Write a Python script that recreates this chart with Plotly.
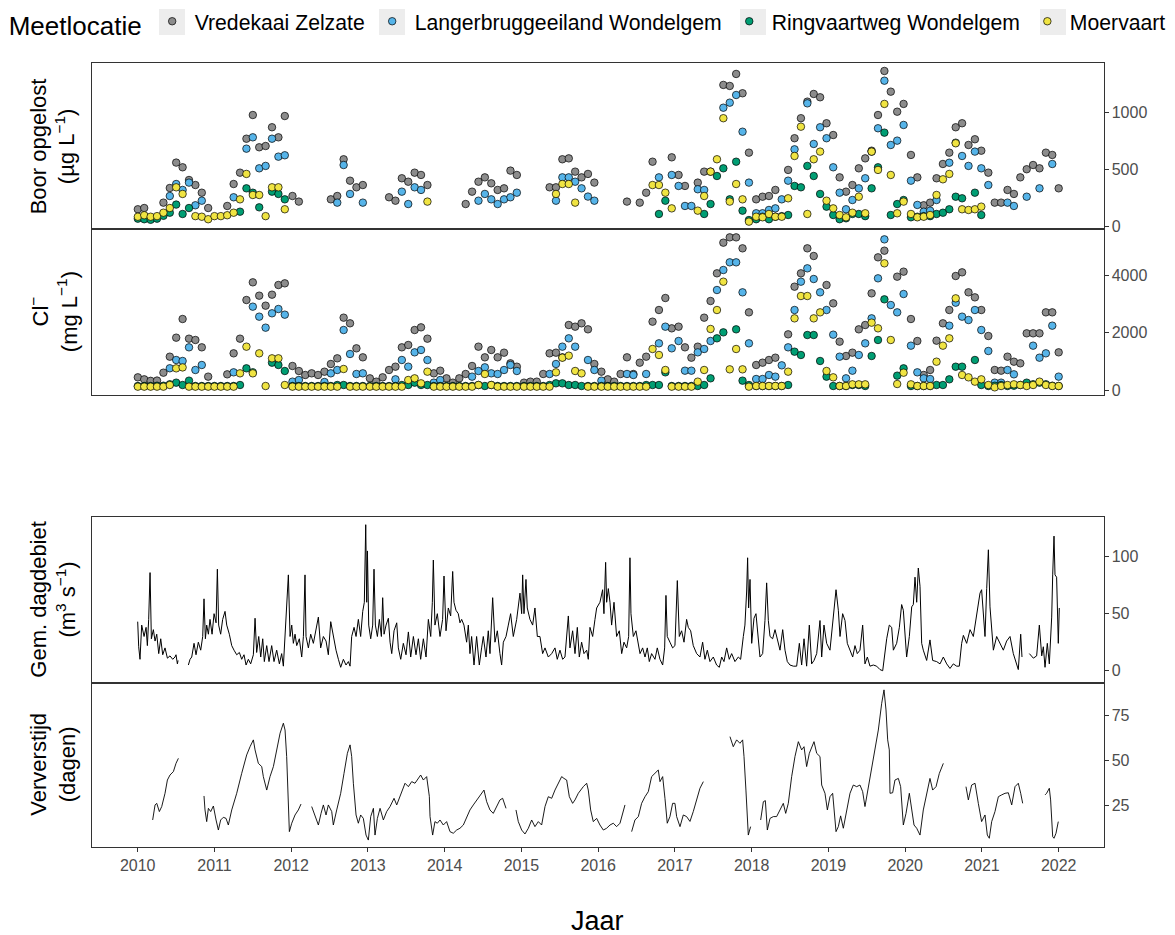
import plotly.graph_objects as go

# ---------------- DATA ----------------
LOCATIONS = ["Vredekaai Zelzate", "Langerbruggeeiland Wondelgem", "Ringvaartweg Wondelgem", "Moervaart"]
COLORS = ["#8C8C8C", "#56B4E9", "#009E73", "#F0E442"]

YEARS = list(range(2010, 2022))
# position of the monthly sampling day inside the month (fraction of a month), per year
SAMPLE_PHASE = [0.02, 0.0, 0.2, 0.3, 0.28, 0.4, 0.5, 0.57, 0.7, 0.75, 0.9, 1.0]
N = None

# Boor opgelost (ug/L), one row per year (Jan..Dec)
BOOR_VZ = [
    [152, 163, N, N, 210, 338, 560, 519, 408, 364, 297, 163],
    [N, N, 181, 373, 472, 769, 976, 694, 705, 869, 781, 967],
    [268, 219, N, N, N, N, 239, 268, 589, 402, 344, 364],
    [N, N, N, 257, 227, 423, 393, 472, 452, 364, N, N],
    [N, N, N, 198, 306, 393, 431, 379, 321, 335, 490, 452],
    [N, N, N, N, 344, 344, 589, 597, 481, 431, 461, 385],
    [N, N, N, N, 219, N, 210, 297, 568, N, N, 606],
    [452, 356, N, 385, 481, 481, N, 1239, 1230, 1335, 1166, 647],
    [239, 262, 268, 321, N, 496, 773, 948, 1093, 1160, 1131, 904],
    [801, 431, 306, 364, 510, 597, 664, 976, 1361, 1180, 1005, 1073],
    [627, 431, 187, 210, 423, 548, 647, 869, 904, 714, 764, 664],
    [472, 210, 210, 321, 286, 431, 502, 539, 510, 647, 627, 335],
]
BOOR_LW = [
    [N, N, N, N, N, 268, 373, 321, 385, 187, 227, N],
    [N, N, N, 257, N, 682, 781, 510, 531, 769, 612, 624],
    [N, N, N, N, N, N, N, 210, 539, 286, N, 210],
    [N, N, N, N, N, 306, 198, 344, 321, N, N, N],
    [N, N, N, N, N, 227, 286, 239, 198, 239, 257, 297],
    [N, N, N, N, N, 227, 431, 431, 393, 335, 263, 227],
    [N, N, N, N, N, N, N, N, N, 431, N, 452],
    [356, 181, 181, 327, 321, N, N, 1040, 1084, 1151, 830, 385],
    [117, 117, 146, 160, 239, 402, 676, N, 1078, 723, 869, 773],
    [519, 297, 152, 233, 335, 423, 656, 860, 1276, 714, 752, 889],
    [402, 190, 131, 140, 233, N, 559, 734, 618, 531, 656, 510],
    [364, N, N, 210, 181, N, 262, N, 335, N, 548, N],
]
BOOR_RW = [
    [70, 65, 60, 70, 95, 122, 193, 111, 163, N, N, N],
    [N, N, N, N, 131, 335, 297, 169, N, 306, 286, 239],
    [N, N, N, N, N, N, N, N, N, N, N, N],
    [N, N, N, N, N, N, N, N, N, N, N, N],
    [N, N, N, N, N, N, N, N, N, N, N, N],
    [N, N, N, N, N, N, N, N, N, N, N, N],
    [N, N, N, N, N, N, N, N, N, 111, 227, N],
    [N, N, N, N, 111, 198, 443, 510, 239, 568, 140, 58],
    [65, 87, 65, 87, 92, 102, 356, 344, 531, 443, 286, 175],
    [102, 65, 73, 111, 111, 92, 335, 519, 822, 102, 198, 233],
    [82, 87, 92, 92, 111, 122, 152, 262, 248, N, 297, 102],
    [N, N, N, N, N, N, N, N, N, N, N, N],
]
BOOR_MV = [
    [87, 100, 87, 92, 122, 163, 344, 286, N, 92, 87, 65],
    [92, 92, 100, 122, 239, 461, 277, 277, 92, 344, 344, 152],
    [N, N, N, N, N, N, N, N, N, N, N, N],
    [N, N, N, N, N, N, N, N, N, 219, N, N],
    [N, N, N, N, N, N, N, N, N, N, N, N],
    [N, N, N, N, N, 286, 373, 373, 210, N, N, N],
    [N, N, N, N, N, N, N, N, 364, 364, 297, 160],
    [N, N, N, 140, 268, 481, 589, 948, 219, 373, 239, 44],
    [87, 82, 111, 87, 87, 248, 618, 874, 111, 589, 656, 227],
    [160, 102, 82, 122, 262, 117, 656, 496, 1073, 452, 117, 219],
    [111, 82, 87, 102, 277, 414, 461, 729, 152, 146, 152, 175],
    [N, N, N, N, N, N, N, N, N, N, N, N],
]

# Chloride (mg/L)
CL_VZ = [
    [443, 373, 320, 330, 606, 1166, 1831, 2484, 1796, 1750, 1493, 467],
    [N, N, 548, 1283, 1796, 3149, 3767, 3301, 2951, 3336, 3674, 3732],
    [840, 665, 525, 583, 525, 641, 910, 1108, 2531, 2333, 1458, 1143],
    [408, 292, 443, 700, 816, 1493, 1575, 2099, 2192, 1796, 583, 676],
    [408, 257, 408, 560, 840, 1516, 1143, 1400, 1143, 1306, 933, 816],
    [257, 292, 292, 560, 1283, 1306, 1143, 2274, 2216, 2333, 2123, 910],
    [641, 373, 292, 560, 1143, 560, 956, 1166, 2391, 2799, 3219, 2158],
    [2216, 1493, 1131, 1516, 2531, 3114, 4082, 5155, 5341, 5341, 4957, 2717],
    [875, 956, 1050, 1131, N, 1948, 3616, 4082, 4957, 4689, N, 3674],
    [3032, 1691, 1190, 1306, 2123, 2274, 3382, 4642, 4875, N, 3966, 4141],
    [2484, 1714, 525, 700, 1726, 2333, 2799, 3989, 4117, 3417, 3242, 2799],
    [1889, 700, 676, 1166, 991, 933, 1983, 1983, 1983, 2717, 2717, 1318],
]
CL_LW = [
    [N, N, N, N, N, 760, 1050, 1015, 1493, 700, 875, N],
    [N, N, N, 618, N, N, 2916, 2566, 2181, 2683, 2834, 2636],
    [292, 350, N, N, N, 280, 583, 700, 2099, 1260, 560, 583],
    [N, N, N, N, 373, 1050, 816, 1318, 1400, 1050, 257, 350],
    [N, N, N, N, 467, 665, 793, 583, 560, 700, 875, 665],
    [N, N, N, N, 560, 910, 1516, 1808, 1516, N, 1050, 700],
    [327, N, N, N, 560, 525, N, 560, N, 1633, 2216, 1458],
    [1714, 676, 676, 1318, 1435, 1714, 3499, 4199, 4467, 4467, 3417, 1633],
    [385, 385, 525, 467, 863, 1493, 2799, 3790, 4257, 3884, 3417, 2799],
    [1936, 1166, 408, 676, 1225, 1633, 2507, 3907, 5271, 2974, 2717, 3359],
    [1551, 618, 408, 385, N, N, 2251, 3056, 2566, 2449, 2799, 2099],
    [1365, 257, 257, 700, 548, N, N, 1551, 1131, 1283, 2251, 467],
]
CL_RW = [
    [140, 140, 140, 150, 150, 200, 257, 175, 327, 140, 140, 140],
    [140, 140, 140, 140, 175, 758, 618, N, N, 956, 875, 665],
    [140, 140, 140, 140, 140, 140, 140, 175, 175, 140, 140, 140],
    [140, 140, 140, 140, 140, 175, 175, 257, 175, 175, 140, 140],
    [140, 140, 140, 140, 140, 175, 140, 175, 140, 140, 140, 140],
    [140, 140, 140, 140, 175, 233, 233, 175, 175, 140, 140, 140],
    [140, 140, 140, 140, 140, 140, 140, 175, 175, 175, 618, 140],
    [140, 140, 140, 140, 175, 408, 1808, 2017, N, 2123, 327, 175],
    [140, 140, 140, 140, 140, 175, 1341, 1225, 1924, 1924, 1015, 467],
    [140, 140, 140, 175, 175, 140, 1190, 1750, 3172, N, 502, 758],
    [140, 140, 140, 140, 175, 175, 373, 816, 816, N, 1050, 175],
    [140, 150, 175, 140, 150, 175, 257, 200, 257, 200, 150, 140],
]
CL_MV = [
    [117, 117, 117, 117, 117, 175, 758, 790, 117, 117, 117, 117],
    [117, 117, 117, 117, 583, 1516, 583, 1283, 140, 1108, 1108, 175],
    [117, 117, 117, 117, 117, 117, 117, 117, 735, 117, 117, 117],
    [117, 117, 117, 117, 117, 117, 350, 408, 233, 641, 117, 117],
    [117, 117, 117, 117, 117, 175, 560, 175, 117, 117, 117, 117],
    [117, 117, 117, 117, 117, 618, 1131, 1201, 665, 583, 117, 117],
    [117, 117, 117, 117, 117, 117, 117, 117, 1435, 1225, 700, 117],
    [117, 117, 117, 292, 700, 2135, 2799, 3790, 723, 1435, 723, 117],
    [140, 140, 140, 140, 140, 641, 2507, 3289, 3289, 2507, 2717, 665],
    [443, 140, 140, 198, 198, 198, 2356, 2158, 4432, 1750, 210, 606],
    [198, 140, 140, 140, 991, 1551, 1808, 3207, 525, 443, 292, 373],
    [175, 93, 140, 175, 198, 175, 140, 175, 292, 175, 140, 140],
]

# Gemiddeld dagdebiet (m3/s): (decimal year, value); None marks a data gap
DEBIET = [
    (2010.000, 43), (2010.013, 21), (2010.030, 10), (2010.052, 40), (2010.083, 30), (2010.109, 38),
    (2010.126, 22), (2010.143, 45), (2010.161, 86), (2010.178, 28), (2010.204, 36), (2010.226, 26),
    (2010.248, 32), (2010.274, 15), (2010.300, 28), (2010.326, 14), (2010.356, 20), (2010.387, 11),
    (2010.421, 13), (2010.456, 10), (2010.486, 12), (2010.499, 14), (2010.517, 6), (2010.526, 9),
    (2010.590, None),
    (2010.660, 5), (2010.682, 10), (2010.704, 12), (2010.734, 24), (2010.760, 14), (2010.790, 25),
    (2010.821, 18), (2010.847, 30), (2010.864, 63), (2010.882, 28), (2010.899, 40), (2010.921, 32),
    (2010.942, 45), (2010.969, 32), (2010.995, 50), (2011.021, 42), (2011.038, 89), (2011.055, 40),
    (2011.081, 32), (2011.107, 45), (2011.138, 52), (2011.160, 40), (2011.194, 32), (2011.225, 22),
    (2011.255, 18), (2011.290, 14), (2011.325, 16), (2011.355, 10), (2011.385, 14), (2011.412, 5),
    (2011.442, 10), (2011.472, 6), (2011.507, 14), (2011.529, 46), (2011.550, 16), (2011.577, 30),
    (2011.603, 12), (2011.629, 28), (2011.650, 8), (2011.681, 22), (2011.711, 8), (2011.746, 22),
    (2011.776, 8), (2011.811, 18), (2011.846, 6), (2011.876, 15), (2011.898, 4), (2011.915, 26),
    (2011.933, 42), (2011.963, 84), (2011.985, 30), (2012.007, 40), (2012.028, 24), (2012.050, 32),
    (2012.072, 22), (2012.106, 28), (2012.137, 12), (2012.159, 30), (2012.180, 84), (2012.193, 30),
    (2012.224, 20), (2012.254, 32), (2012.289, 24), (2012.324, 36), (2012.354, 47), (2012.384, 20),
    (2012.419, 30), (2012.454, 26), (2012.484, 14), (2012.515, 43), (2012.549, 30), (2012.584, 18),
    (2012.615, 10), (2012.645, 3), (2012.680, 10), (2012.714, 5), (2012.745, 8), (2012.767, 4),
    (2012.788, 30), (2012.819, 38), (2012.845, 30), (2012.875, 45), (2012.905, 30), (2012.932, 52),
    (2012.953, 60), (2012.971, 128), (2012.984, 60), (2012.993, 105), (2013.010, 40), (2013.036, 28),
    (2013.062, 40), (2013.079, 89), (2013.097, 40), (2013.123, 30), (2013.149, 45), (2013.175, 30),
    (2013.192, 64), (2013.210, 32), (2013.236, 40), (2013.266, 46), (2013.288, 25), (2013.310, 15),
    (2013.340, 35), (2013.375, 42), (2013.396, 20), (2013.427, 10), (2013.461, 24), (2013.496, 14),
    (2013.527, 34), (2013.557, 12), (2013.592, 30), (2013.626, 14), (2013.657, 28), (2013.687, 10),
    (2013.722, 28), (2013.757, 12), (2013.787, 45), (2013.818, 30), (2013.839, 60), (2013.852, 97),
    (2013.873, 40), (2013.904, 50), (2013.939, 30), (2013.973, 45), (2013.991, 83), (2014.017, 35),
    (2014.047, 55), (2014.078, 48), (2014.104, 87), (2014.121, 60), (2014.147, 53), (2014.177, 50),
    (2014.199, 42), (2014.221, 45), (2014.251, 40), (2014.286, 25), (2014.308, 40), (2014.329, 15),
    (2014.351, 30), (2014.382, 5), (2014.416, 30), (2014.451, 5), (2014.481, 20), (2014.503, 30),
    (2014.538, 12), (2014.568, 35), (2014.590, 15), (2014.625, 64), (2014.655, 25), (2014.686, 35),
    (2014.720, 15), (2014.742, 5), (2014.764, 25), (2014.799, 30), (2014.829, 40), (2014.859, 50),
    (2014.894, 30), (2014.938, 45), (2014.981, 68), (2015.003, 50), (2015.016, 84), (2015.033, 50),
    (2015.059, 80), (2015.076, 55), (2015.111, 45), (2015.146, 40), (2015.176, 55), (2015.207, 30),
    (2015.241, 30), (2015.276, 15), (2015.307, 20), (2015.350, 12), (2015.394, 15), (2015.437, 20),
    (2015.467, 10), (2015.502, 18), (2015.537, 10), (2015.567, 12), (2015.611, 48), (2015.632, 20),
    (2015.667, 35), (2015.698, 15), (2015.728, 38), (2015.754, 12), (2015.784, 25), (2015.815, 15),
    (2015.850, 18), (2015.871, 10), (2015.893, 38), (2015.928, 30), (2015.958, 45), (2015.980, 55),
    (2016.023, 60), (2016.058, 71), (2016.075, 50), (2016.097, 95), (2016.110, 60), (2016.132, 72),
    (2016.154, 60), (2016.175, 40), (2016.206, 60), (2016.240, 30), (2016.275, 35), (2016.306, 15),
    (2016.336, 25), (2016.371, 20), (2016.397, 30), (2016.414, 99), (2016.427, 50), (2016.458, 30),
    (2016.492, 35), (2016.523, 25), (2016.545, 15), (2016.579, 20), (2016.610, 12), (2016.640, 20),
    (2016.666, 8), (2016.696, 15), (2016.740, 10), (2016.770, 20), (2016.805, 10), (2016.840, 5),
    (2016.866, 20), (2016.883, 66), (2016.900, 30), (2016.935, 25), (2016.970, 20), (2017.000, 22),
    (2017.031, 79), (2017.057, 30), (2017.087, 35), (2017.118, 25), (2017.152, 45), (2017.174, 38),
    (2017.205, 35), (2017.239, 22), (2017.283, 15), (2017.326, 12), (2017.361, 25), (2017.391, 10),
    (2017.422, 18), (2017.456, 8), (2017.500, 12), (2017.543, 5), (2017.578, 3), (2017.609, 12),
    (2017.639, 8), (2017.674, 20), (2017.708, 10), (2017.739, 15), (2017.782, 8), (2017.826, 12),
    (2017.856, 10), (2017.891, 30), (2017.912, 40), (2017.934, 69), (2017.947, 99), (2017.960, 55),
    (2017.978, 80), (2018.000, 24), (2018.030, 46), (2018.056, 50), (2018.087, 24), (2018.108, 12),
    (2018.143, 15), (2018.173, 44), (2018.195, 77), (2018.217, 44), (2018.239, 30), (2018.273, 28),
    (2018.304, 36), (2018.334, 27), (2018.369, 18), (2018.404, 36), (2018.434, 18), (2018.464, 8),
    (2018.499, 5), (2018.543, 4), (2018.586, 4), (2018.621, 24), (2018.651, 5), (2018.682, 28),
    (2018.716, 4), (2018.751, 40), (2018.781, 6), (2018.812, 9), (2018.847, 15), (2018.890, 44),
    (2018.912, 12), (2018.942, 40), (2018.977, 24), (2019.020, 18), (2019.055, 41), (2019.077, 56),
    (2019.099, 71), (2019.129, 53), (2019.151, 30), (2019.185, 50), (2019.216, 44), (2019.246, 24),
    (2019.281, 18), (2019.316, 12), (2019.346, 22), (2019.376, 15), (2019.411, 18), (2019.446, 40),
    (2019.476, 6), (2019.507, 12), (2019.541, 4), (2019.585, 5), (2019.628, 4), (2019.672, 1),
    (2019.707, 0), (2019.737, 18), (2019.759, 28), (2019.793, 40), (2019.824, 38), (2019.846, 18),
    (2019.889, 24), (2019.924, 38), (2019.954, 58), (2019.976, 53), (2020.019, 12), (2020.054, 30),
    (2020.085, 56), (2020.106, 58), (2020.128, 82), (2020.150, 60), (2020.171, 90), (2020.193, 74),
    (2020.215, 24), (2020.236, 18), (2020.280, 9), (2020.323, 27), (2020.358, 9), (2020.410, 8),
    (2020.454, 6), (2020.497, 12), (2020.541, 6), (2020.584, 2), (2020.627, 6), (2020.671, 4),
    (2020.705, 4), (2020.736, 24), (2020.758, 31), (2020.801, 24), (2020.845, 36), (2020.888, 30),
    (2020.931, 47), (2020.957, 60), (2020.975, 68), (2020.996, 71), (2021.018, 53), (2021.040, 30),
    (2021.062, 72), (2021.084, 106), (2021.105, 56), (2021.127, 36), (2021.149, 18), (2021.192, 30),
    (2021.236, 24), (2021.279, 18), (2021.322, 26), (2021.366, 30), (2021.409, 15), (2021.453, 6),
    (2021.474, 1), (2021.505, 32), (2021.522, 12),
    (2021.570, None),
    (2021.618, 15), (2021.670, 11), (2021.713, 13), (2021.748, 40), (2021.779, 13), (2021.800, 21),
    (2021.822, 3), (2021.852, 24), (2021.878, 6), (2021.909, 47), (2021.922, 84), (2021.939, 118),
    (2021.952, 84), (2021.973, 82), (2021.995, 24), (2022.008, 55),
]

# Ververstijd (dagen): (decimal year, value); None marks a data gap
VERVERSTIJD = [
    (2010.195, 16.8), (2010.226, 25.2), (2010.248, 26.1), (2010.282, 21.5), (2010.313, 24.3),
    (2010.356, 31.7), (2010.387, 39.1), (2010.421, 41.9), (2010.465, 43.8), (2010.499, 48.4),
    (2010.530, 51.2),
    (2010.700, None),
    (2010.864, 30.2), (2010.877, 22.4), (2010.899, 15.9), (2010.921, 23.3), (2010.951, 21.5),
    (2010.986, 24.6), (2011.021, 16.8), (2011.051, 11.2), (2011.081, 16.8), (2011.116, 18.3),
    (2011.151, 17.7), (2011.181, 14.0), (2011.225, 22.4), (2011.290, 31.7), (2011.355, 42.8),
    (2011.420, 53.1), (2011.464, 57.7), (2011.507, 61.5), (2011.529, 55.9), (2011.572, 48.4),
    (2011.616, 46.6), (2011.637, 41.0), (2011.681, 33.5), (2011.724, 41.0), (2011.768, 46.6),
    (2011.811, 56.8), (2011.855, 65.2), (2011.898, 70.8), (2011.920, 67.0), (2011.941, 52.2),
    (2011.976, 10.3), (2012.007, 15.0), (2012.050, 19.6), (2012.093, 22.4), (2012.128, 25.7),
    (2012.200, None),
    (2012.267, 24.3), (2012.311, 19.6), (2012.354, 14.0), (2012.389, 20.5), (2012.419, 25.2),
    (2012.454, 19.6), (2012.484, 25.2), (2012.528, 21.5), (2012.549, 14.0), (2012.593, 22.4),
    (2012.645, 31.7), (2012.688, 42.8), (2012.732, 54.0), (2012.767, 58.7), (2012.788, 52.2),
    (2012.810, 37.3), (2012.845, 19.6), (2012.875, 15.0), (2012.905, 19.6), (2012.940, 17.7),
    (2012.975, 8.4), (2013.005, 5.6), (2013.036, 18.7), (2013.071, 23.3), (2013.092, 8.4),
    (2013.123, 17.7), (2013.158, 23.3), (2013.201, 16.8), (2013.244, 21.5), (2013.288, 24.3),
    (2013.340, 28.9), (2013.375, 25.2), (2013.418, 29.8), (2013.483, 37.3), (2013.527, 35.4),
    (2013.570, 38.2), (2013.613, 37.3), (2013.657, 40.0), (2013.687, 41.9), (2013.722, 39.1),
    (2013.765, 41.0), (2013.800, 30.0), (2013.809, 18.7), (2013.843, 8.4), (2013.873, 15.9),
    (2013.904, 15.0), (2013.939, 16.8), (2013.982, 14.0), (2014.025, 15.9), (2014.069, 10.3),
    (2014.112, 9.4), (2014.156, 11.2), (2014.199, 12.2), (2014.243, 14.0), (2014.286, 18.7),
    (2014.329, 22.4), (2014.373, 25.2), (2014.416, 28.0), (2014.481, 31.7), (2014.512, 33.5),
    (2014.547, 27.0), (2014.590, 22.4), (2014.633, 20.5), (2014.677, 24.3), (2014.720, 28.0),
    (2014.755, 28.9), (2014.799, 23.3),
    (2014.860, None),
    (2014.929, 22.4), (2014.959, 15.9), (2015.003, 11.2), (2015.046, 9.0), (2015.090, 12.2),
    (2015.133, 16.8), (2015.176, 13.1), (2015.220, 15.9), (2015.263, 14.0), (2015.307, 24.3),
    (2015.350, 29.8), (2015.394, 28.9), (2015.437, 33.5), (2015.480, 37.3), (2015.524, 41.0),
    (2015.554, 40.0), (2015.589, 39.1), (2015.624, 29.8), (2015.667, 26.1), (2015.698, 28.0),
    (2015.741, 31.7), (2015.806, 35.4), (2015.850, 37.3), (2015.871, 33.5), (2015.902, 22.4),
    (2015.936, 15.9), (2015.980, 17.7), (2016.023, 14.0), (2016.067, 11.2), (2016.110, 12.2),
    (2016.154, 14.0), (2016.197, 15.0), (2016.240, 13.1), (2016.284, 15.0), (2016.327, 21.5),
    (2016.349, 25.2),
    (2016.390, None),
    (2016.436, 10.3), (2016.479, 16.8), (2016.523, 18.7), (2016.566, 26.1), (2016.610, 29.8),
    (2016.653, 32.6), (2016.696, 41.0), (2016.740, 42.8), (2016.783, 44.7), (2016.805, 38.2),
    (2016.840, 41.0), (2016.870, 28.9), (2016.900, 15.0), (2016.935, 18.7), (2016.970, 26.1),
    (2017.000, 26.1), (2017.022, 18.7), (2017.066, 13.1), (2017.109, 19.6), (2017.152, 18.7),
    (2017.196, 16.0), (2017.239, 21.5), (2017.283, 28.0), (2017.326, 34.5), (2017.370, 38.2),
    (2017.500, None),
    (2017.717, 63.3), (2017.739, 60.5), (2017.760, 57.7), (2017.804, 61.5), (2017.847, 59.6),
    (2017.882, 61.5), (2017.900, 52.2), (2017.925, 33.5), (2017.956, 8.4), (2017.986, 13.1),
    (2018.050, None),
    (2018.117, 16.8), (2018.152, 27.0), (2018.178, 27.6), (2018.204, 11.2), (2018.239, 17.7),
    (2018.282, 18.7), (2018.325, 18.7), (2018.369, 22.4), (2018.412, 26.1), (2018.443, 20.5),
    (2018.477, 26.1), (2018.521, 41.0), (2018.564, 52.2), (2018.608, 60.5), (2018.651, 55.9),
    (2018.682, 57.7), (2018.716, 46.6), (2018.751, 54.0), (2018.781, 57.7), (2018.812, 60.5),
    (2018.847, 54.0), (2018.890, 52.2), (2018.912, 36.3), (2018.955, 31.7), (2018.986, 22.4),
    (2019.020, 29.8), (2019.055, 31.7), (2019.099, 10.3), (2019.129, 13.1), (2019.159, 19.1),
    (2019.194, 12.2), (2019.237, 22.4), (2019.281, 31.7), (2019.324, 36.3), (2019.368, 35.4),
    (2019.411, 36.3), (2019.446, 32.6), (2019.476, 24.3), (2019.520, 35.4), (2019.563, 46.6),
    (2019.607, 55.9), (2019.650, 67.0), (2019.694, 81.9), (2019.724, 89.4), (2019.750, 78.2),
    (2019.772, 61.5), (2019.793, 55.9), (2019.802, 31.7), (2019.837, 32.0), (2019.867, 39.1),
    (2019.911, 40.0), (2019.941, 35.4), (2019.976, 14.0), (2020.011, 20.5), (2020.054, 31.7),
    (2020.085, 22.4), (2020.115, 14.0), (2020.150, 12.2), (2020.193, 8.4), (2020.236, 22.4),
    (2020.280, 31.7), (2020.323, 40.0), (2020.358, 33.5), (2020.402, 35.4), (2020.445, 42.8),
    (2020.497, 48.4),
    (2020.650, None),
    (2020.792, 35.4), (2020.823, 28.0), (2020.866, 36.3), (2020.910, 37.3), (2020.953, 26.1),
    (2020.996, 15.9), (2021.040, 19.6), (2021.070, 8.4), (2021.096, 6.6), (2021.127, 15.9),
    (2021.170, 21.5), (2021.214, 29.8), (2021.257, 30.8), (2021.301, 31.7), (2021.344, 32.0),
    (2021.388, 25.2), (2021.431, 35.4), (2021.474, 37.3), (2021.505, 31.7), (2021.531, 26.1),
    (2021.680, None),
    (2021.822, 30.8), (2021.843, 31.7), (2021.878, 34.5), (2021.895, 28.0), (2021.922, 7.5),
    (2021.939, 6.6), (2021.965, 9.4), (2021.995, 15.9),
]

YEAR_TICKS = list(range(2010, 2023))

# ---------------- FIGURE ----------------
FONT = "Liberation Sans, Arial, sans-serif"
TICK_FONT = dict(family=FONT, size=16, color="#4D4D4D")
LINE_COL = "#333333"

# the page body keeps an 8 px default margin; the figure is sized and laid out to compensate
PAGE_OFF = 8
W, H = 1175 - PAGE_OFF, 935 - PAGE_OFF


def px_x(sx):
    return (sx - PAGE_OFF) / W


def px_y(sy):
    return 1 - (sy - PAGE_OFF) / H


sample_x = [yr + (mo + SAMPLE_PHASE[i]) / 12.0 for i, yr in enumerate(YEARS) for mo in range(12)]


def flat(rows):
    return [v for row in rows for v in row]


fig = go.Figure()

boor_series = [BOOR_VZ, BOOR_LW, BOOR_RW, BOOR_MV]
cl_series = [CL_VZ, CL_LW, CL_RW, CL_MV]

for k, (name, col) in enumerate(zip(LOCATIONS, COLORS)):
    fig.add_trace(go.Scatter(
        x=sample_x, y=flat(boor_series[k]), mode="markers", name=name,
        legendgroup=name, showlegend=True, xaxis="x", yaxis="y",
        marker=dict(size=7.5, color=col, line=dict(color="black", width=0.7)),
    ))
for k, (name, col) in enumerate(zip(LOCATIONS, COLORS)):
    fig.add_trace(go.Scatter(
        x=sample_x, y=flat(cl_series[k]), mode="markers", name=name,
        legendgroup=name, showlegend=False, xaxis="x2", yaxis="y2",
        marker=dict(size=7.5, color=col, line=dict(color="black", width=0.7)),
    ))

fig.add_trace(go.Scatter(
    x=[p[0] for p in DEBIET], y=[p[1] for p in DEBIET], mode="lines",
    line=dict(color="black", width=1.0), connectgaps=False, showlegend=False,
    xaxis="x3", yaxis="y3",
))
fig.add_trace(go.Scatter(
    x=[p[0] for p in VERVERSTIJD], y=[p[1] for p in VERVERSTIJD], mode="lines",
    line=dict(color="black", width=0.9), connectgaps=False, showlegend=False,
    xaxis="x4", yaxis="y4",
))

XDOM = [px_x(91.5), px_x(1103.5)]
XRANGE = [2009.398, 2022.584]


def ydom(top_px, bottom_px):
    return [px_y(bottom_px), px_y(top_px)]


PANELS = [
    (ydom(63.3, 229.3), [-23, 1428], [0, 500, 1000]),
    (ydom(229.3, 395.0), [-175, 5623], [0, 2000, 4000]),
    (ydom(516.7, 682.7), [-10.5, 135], [0, 50, 100]),
    (ydom(682.7, 846.7), [1.9, 93.4], [25, 50, 75]),
]

layout = dict(
    width=W, height=H, autosize=False,
    margin=dict(l=0, r=0, t=0, b=0, autoexpand=False),
    paper_bgcolor="white", plot_bgcolor="white",
    font=dict(family=FONT, color="black"),
    legend=dict(
        orientation="h", x=-0.0011, y=1.0076, xanchor="left", yanchor="top",
        title=dict(text="Meetlocatie", font=dict(family=FONT, size=26, color="black")),
        font=dict(family=FONT, size=21.2, color="black"),
        bgcolor="rgba(0,0,0,0)", itemwidth=35,
    ),
)

for i, (dom, yr, ticks) in enumerate(PANELS):
    sfx = "" if i == 0 else str(i + 1)
    last = i == 3
    layout["xaxis" + sfx] = dict(
        domain=XDOM, range=XRANGE, anchor="y" + sfx, showgrid=False, zeroline=False,
        showline=True, mirror=True, linecolor=LINE_COL, linewidth=1, automargin=False,
        ticks="outside" if last else "", ticklen=4, tickcolor=LINE_COL,
        tickvals=YEAR_TICKS, ticktext=[str(t) for t in YEAR_TICKS],
        showticklabels=last, tickfont=TICK_FONT,
    )
    layout["yaxis" + sfx] = dict(
        domain=dom, range=yr, anchor="x" + sfx, side="right", showgrid=False, zeroline=False,
        showline=True, mirror=True, linecolor=LINE_COL, linewidth=1, automargin=False,
        ticks="outside", ticklen=4, tickcolor=LINE_COL, tickvals=ticks,
        tickfont=TICK_FONT,
    )

fig.update_layout(**layout)

# light grey legend-key backgrounds
for cx in [172, 392, 753, 1053]:
    fig.add_shape(
        type="rect", xref="paper", yref="paper", layer="below",
        x0=px_x(cx - 13), x1=px_x(cx + 13), y0=px_y(35), y1=px_y(9),
        fillcolor="#EDEDED", line=dict(width=0),
    )

YTITLES = [
    "Boor opgelost<br>(µg L<sup>−1</sup>)",
    "Cl<sup>−</sup><br>(mg L<sup>−1</sup>)",
    "Gem. dagdebiet<br>(m<sup>3</sup> s<sup>−1</sup>)",
    "Ververstijd<br>(dagen)",
]
for (dom, _, _), txt in zip(PANELS, YTITLES):
    fig.add_annotation(
        x=px_x(53), y=(dom[0] + dom[1]) / 2, xref="paper", yref="paper",
        text=txt, textangle=-90, showarrow=False, xanchor="center", yanchor="middle",
        font=dict(family=FONT, size=22, color="black"),
    )

fig.add_annotation(
    x=(XDOM[0] + XDOM[1]) / 2, y=px_y(921), xref="paper", yref="paper",
    text="Jaar", showarrow=False, xanchor="center", yanchor="middle",
    font=dict(family=FONT, size=27, color="black"),
)

fig.write_html("out.html")
